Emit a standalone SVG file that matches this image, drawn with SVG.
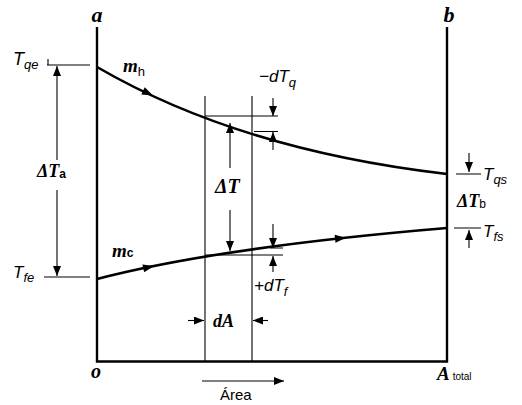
<svg xmlns="http://www.w3.org/2000/svg" width="522" height="405" viewBox="0 0 522 405">
<defs>
<marker id="ah" viewBox="0 0 10 8" refX="10" refY="4" markerWidth="10" markerHeight="8" markerUnits="userSpaceOnUse" orient="auto">
<path d="M0,0 L10,4 L0,8 z" fill="#000"/>
</marker>
</defs>
<style>
.axis{stroke:#000;stroke-width:2.4;fill:none}
.curve{stroke:#000;stroke-width:2.6;fill:none}
.thin{stroke:#000;stroke-width:1.1;fill:none}
.arr{stroke:#000;stroke-width:1.1;fill:none;marker-end:url(#ah)}
.bi{font-family:"Liberation Serif",serif;font-weight:bold;font-style:italic;fill:#000}
.it{font-family:"Liberation Sans",sans-serif;font-style:italic;fill:#000}
.sn{font-family:"Liberation Sans",sans-serif;fill:#000}
</style>
<g id="axes">
<path class="axis" d="M97,27 V361.5 H447 V27"/>
<text class="bi" x="97" y="22" font-size="22" text-anchor="middle">a</text>
<text class="bi" x="449" y="22" font-size="22" text-anchor="middle">b</text>
<text class="bi" x="96" y="378" font-size="20" text-anchor="middle">o</text>
<text class="bi" x="437" y="380" font-size="19">A<tspan class="sn" font-style="normal" font-weight="normal" font-size="10" dx="3">total</tspan></text>
</g>
<g id="hot">
<path class="curve" d="M97,67 Q240,150 447,174"/>
<polygon points="0,0 -11,-4 -11,4" fill="#000" transform="translate(153,95.5) rotate(25)"/>
<text class="bi" x="123" y="72" font-size="19">m<tspan class="sn" font-style="normal" font-weight="normal" font-size="13" dy="4">h</tspan></text>
</g>
<g id="cold">
<path class="curve" d="M97,279 Q220,247 447,228"/>
<polygon points="0,0 -11,-4 -11,4" fill="#000" transform="translate(154,266) rotate(-13)"/>
<polygon points="0,0 -11,-4 -11,4" fill="#000" transform="translate(346,237.7) rotate(-6)"/>
<text class="bi" x="112" y="257" font-size="19">m<tspan class="sn" font-style="normal" font-weight="bold" font-size="12" dy="0">c</tspan></text>
</g>
<g id="connectors">
<path class="thin" d="M47,65 H90 M48,59 V65"/>
<path class="thin" d="M44,277 H90"/>
<path class="arr" d="M57,160 V66"/>
<path class="arr" d="M57,190 V276"/>
<path class="thin" d="M205,96 V361"/>
<path class="thin" d="M252,96 V361"/>
<path class="thin" d="M205,116 H278 M254,131.5 H278"/>
<path class="arr" d="M273,98 V116"/>
<path class="arr" d="M273,150 V132"/>
<path class="arr" d="M230,168 V123"/>
<path class="arr" d="M230,210 V251"/>
<path class="thin" d="M205,255 H283 M270,248 H283"/>
<path class="arr" d="M273,224 V248"/>
<path class="arr" d="M273,272 V256"/>
<path class="arr" d="M188,320.5 H204"/>
<path class="arr" d="M268,320.5 H253"/>
<path class="arr" d="M202,381 H284"/>
<path class="thin" d="M456,174 H481 M454,228 H481"/>
<path class="arr" d="M469,153 V172"/>
<path class="arr" d="M469,248 V230"/>
</g>
<g id="labels">
<text class="it" x="13" y="65" font-size="18">T<tspan font-size="13" dy="4">qe</tspan></text>
<text class="it" x="13" y="278" font-size="17">T<tspan font-size="13" dy="4">fe</tspan></text>
<text class="bi" x="37" y="177" font-size="18">ΔT<tspan class="sn" font-style="normal" font-size="12" dy="1">a</tspan></text>
<text class="bi" x="215" y="193" font-size="20">ΔT</text>
<text class="it" x="259" y="82" font-size="17">−dT<tspan font-size="13" dy="5">q</tspan></text>
<text class="it" x="254" y="291" font-size="17">+dT<tspan font-size="13" dy="5">f</tspan></text>
<text class="bi" x="213" y="327" font-size="18">dA</text>
<text class="sn" x="220" y="400" font-size="15">Área</text>
<text class="it" x="483" y="180" font-size="17">T<tspan font-size="13" dy="4">qs</tspan></text>
<text class="bi" x="457" y="207" font-size="18">ΔT<tspan class="sn" font-style="normal" font-weight="normal" font-size="12" dy="1">b</tspan></text>
<text class="it" x="483" y="237" font-size="17">T<tspan font-size="13" dy="4">fs</tspan></text>
</g>
</svg>
